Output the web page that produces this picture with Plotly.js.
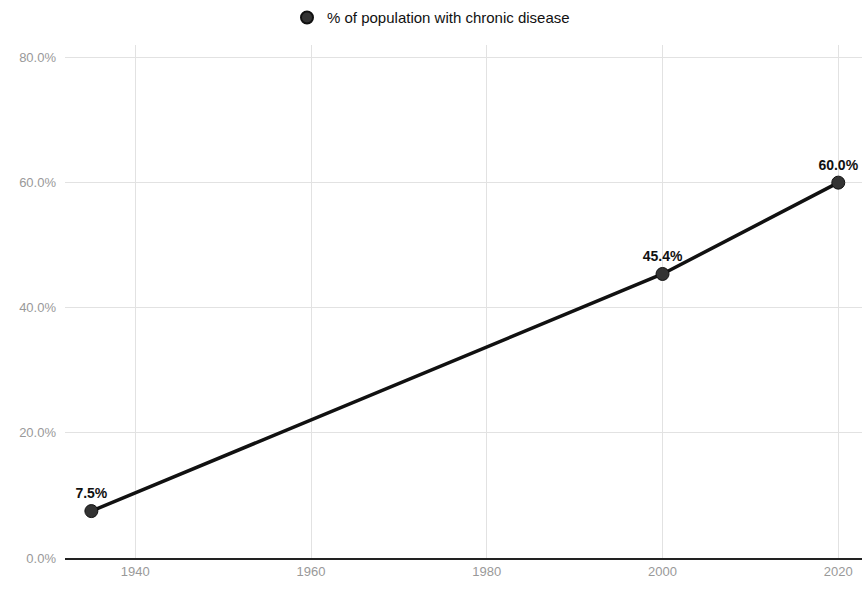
<!DOCTYPE html>
<html>
<head>
<meta charset="utf-8">
<script src="https://cdn.plot.ly/plotly-3.0.1.min.js"></script>
<style>html,body{margin:0;padding:0;background:#fff}#chart{width:862px;height:591px}</style>
</head>
<body>
<div id="chart"></div>
<script>
const years = [1935, 2000, 2020];
const values = [7.5, 45.4, 60.0];
const labels = ['7.5%', '45.4%', '60.0%'];
const seriesName = '% of population with chronic disease';
const xTicks = [1940, 1960, 1980, 2000, 2020];
const yTicks = [0, 20, 40, 60, 80];
const yTickText = ['0.0%', '20.0%', '40.0%', '60.0%', '80.0%'];

const fontFam = '"Liberation Sans Narrow", "Arial Narrow", "Liberation Sans", Arial, sans-serif';

Plotly.newPlot('chart', [{
  x: years,
  y: values,
  name: seriesName,
  type: 'scatter',
  mode: 'lines+markers+text',
  text: labels,
  textposition: 'top center',
  textfont: {family: fontFam, size: 14, color: '#111', weight: 'bold'},
  line: {color: '#111', width: 3.5},
  marker: {color: '#333', size: 13, line: {color: '#111', width: 1}},
  cliponaxis: false,
  showlegend: false
}, {
  x: [null],
  y: [null],
  name: seriesName,
  type: 'scatter',
  mode: 'markers',
  marker: {color: '#333', size: 13, line: {color: '#111', width: 1}},
  showlegend: true,
  hoverinfo: 'skip'
}], {
  width: 862, height: 591,
  margin: {l: 65, r: 0, t: 45, b: 33},
  paper_bgcolor: '#fff', plot_bgcolor: '#fff',
  font: {family: fontFam, size: 12, color: '#999'},
  showlegend: true,
  legend: {orientation: 'h', x: 0.5, xanchor: 'center', xref: 'container', y: 0.97, yanchor: 'middle', yref: 'container',
           font: {family: fontFam, size: 15, color: '#111'}, itemsizing: 'constant', itemwidth: 30},
  xaxis: {range: [1932, 2022.7], tickvals: xTicks, ticktext: xTicks.map(String), showgrid: true, gridcolor: '#e2e2e2',
          zeroline: false, showline: true, linecolor: '#222', linewidth: 2, ticks: '',
          tickfont: {family: fontFam, size: 13, color: '#999'}, fixedrange: true},
  yaxis: {range: [0, 82], tickvals: yTicks, ticktext: yTickText, showgrid: true, gridcolor: '#e2e2e2',
          zeroline: false, showline: false, ticks: '', ticklabelstandoff: 8,
          tickfont: {family: fontFam, size: 13, color: '#999'}, fixedrange: true}
}, {displayModeBar: false, staticPlot: true});
</script>
</body>
</html>
